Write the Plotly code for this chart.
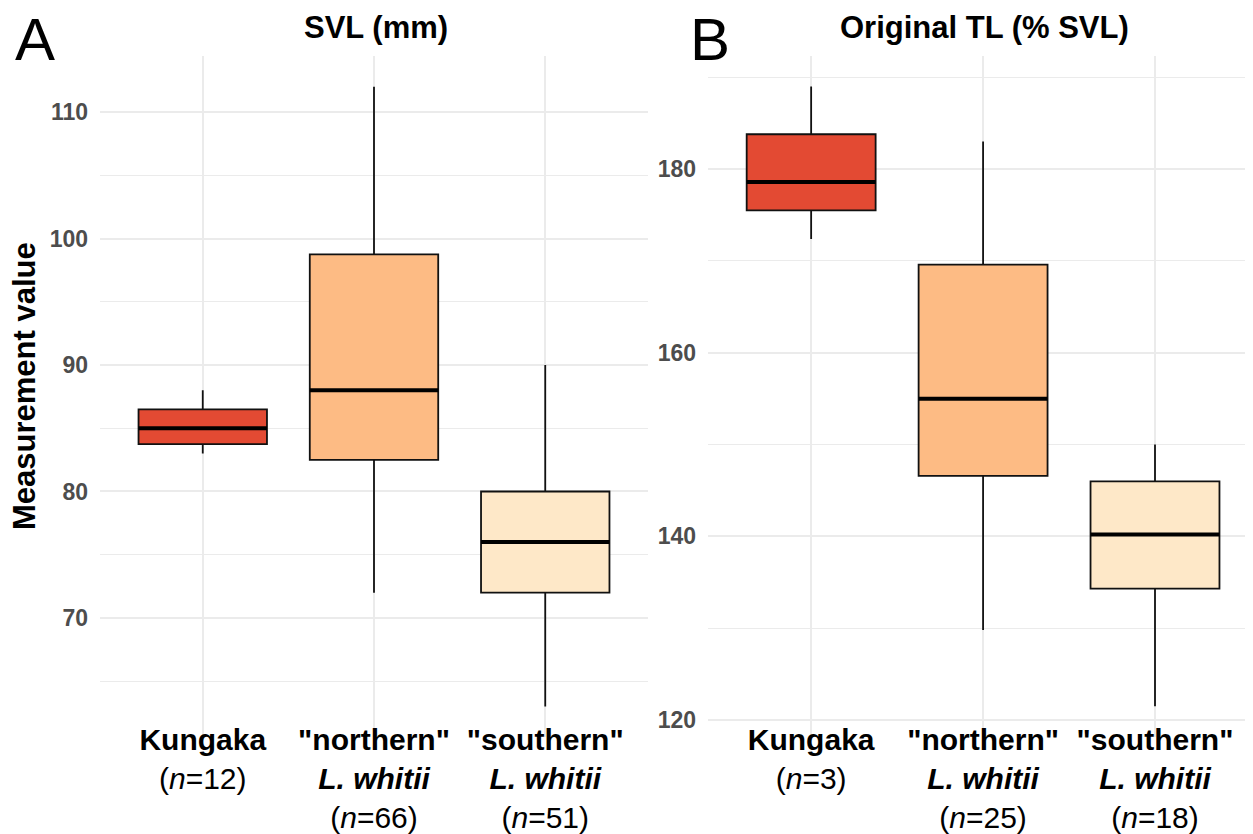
import plotly.graph_objects as go

# ---------------- data ----------------
categories = ["Kungaka", "northern", "southern"]
cat_bold = ["Kungaka", "\"northern\"", "\"southern\""]
cat_species = ["", "L. whitii", "L. whitii"]
fill_colors = ["#E34A33", "#FDBB84", "#FEE8C8"]

# Panel A: SVL (mm)
svl_n = [12, 66, 51]
svl_lower = [83.0, 72.0, 63.0]
svl_q1 = [83.75, 82.5, 72.0]
svl_median = [85.0, 88.0, 76.0]
svl_q3 = [86.5, 98.75, 80.0]
svl_upper = [88.0, 112.0, 90.0]

# Panel B: Original TL (% SVL)
tl_n = [3, 25, 18]
tl_lower = [172.4, 129.8, 121.5]
tl_q1 = [175.5, 146.6, 134.3]
tl_median = [178.6, 155.0, 140.2]
tl_q3 = [183.8, 169.6, 146.0]
tl_upper = [189.0, 183.0, 150.0]

svl_ticks = [70, 80, 90, 100, 110]
tl_ticks = [120, 140, 160, 180]

FONT = "Liberation Sans, Arial, Helvetica, sans-serif"
OFF = 8  # page body margin
W, H = 1253 - OFF, 834 - OFF
BOX_W = 0.75


def px(xpix):
    return (xpix - OFF) / W


def py(ypix):
    return (H - (ypix - OFF)) / H


def tick_labels(ns):
    out = []
    for b, sp, n in zip(cat_bold, cat_species, ns):
        s = f"<b>{b}</b>"
        if sp:
            s += f"<br><b><i>{sp}</i></b>"
        s += f"<br>(<i>n</i>={n})"
        out.append(s)
    return out


fig = go.Figure()
shapes = []


def add_panel(xa, ya, lower, q1, med, q3, upper):
    for i, c in enumerate(categories):
        fig.add_trace(go.Box(
            x=[c], lowerfence=[lower[i]], q1=[q1[i]], median=[med[i]],
            q3=[q3[i]], upperfence=[upper[i]],
            fillcolor=fill_colors[i],
            line=dict(color="#111111", width=1.8),
            whiskerwidth=0, width=BOX_W, boxpoints=False,
            xaxis=xa, yaxis=ya, showlegend=False, hoverinfo="skip",
        ))
        shapes.append(dict(
            type="line", xref=xa, yref=ya,
            x0=i - BOX_W / 2, x1=i + BOX_W / 2, y0=med[i], y1=med[i],
            line=dict(color="black", width=4), layer="above",
        ))


add_panel("x", "y", svl_lower, svl_q1, svl_median, svl_q3, svl_upper)
add_panel("x2", "y2", tl_lower, tl_q1, tl_median, tl_q3, tl_upper)

grid = "#EBEBEB"
xcommon = dict(
    type="category", showgrid=True, gridcolor=grid, gridwidth=1.6,
    zeroline=False, showline=False, ticks="",
    tickfont=dict(family=FONT, size=30, color="black"),
    tickvals=categories, automargin=False, fixedrange=True,
    ticklabelstandoff=-18,
)
ycommon = dict(
    showgrid=True, gridcolor=grid, gridwidth=1.6, zeroline=False,
    showline=False, ticks="",
    tickfont=dict(family=FONT, size=23, color="#4D4D4D", weight=700),
    automargin=False, ticklabelstandoff=11,
)

ybot = py(737)
ytop = py(56)

fig.update_layout(
    width=W, height=H,
    margin=dict(l=0, r=0, t=0, b=0),
    paper_bgcolor="white", plot_bgcolor="white",
    boxmode="overlay",
    font=dict(family=FONT),
    xaxis=dict(xcommon, domain=[px(100), px(648)], range=[-0.6, 2.6],
               ticktext=tick_labels(svl_n), anchor="y"),
    yaxis=dict(ycommon, domain=[ybot, ytop], range=[60.59, 114.43],
               tickvals=svl_ticks, anchor="x",
               minor=dict(dtick=5, tick0=60, showgrid=True, gridcolor=grid, gridwidth=1.0)),
    xaxis2=dict(xcommon, domain=[px(708), 1.0], range=[-0.6, 2.57],
                ticktext=tick_labels(tl_n), anchor="y2"),
    yaxis2=dict(ycommon, domain=[ybot, ytop], range=[118.15, 192.32],
                tickvals=tl_ticks, anchor="x2",
                minor=dict(dtick=10, tick0=120, showgrid=True, gridcolor=grid, gridwidth=1.0)),
    shapes=shapes,
    annotations=[
        dict(text="<b>SVL (mm)</b>", x=px(376), y=py(27), xref="paper", yref="paper",
             xanchor="center", yanchor="middle", showarrow=False,
             font=dict(family=FONT, size=31, color="black")),
        dict(text="<b>Original TL (% SVL)</b>", x=px(984), y=py(27), xref="paper", yref="paper",
             xanchor="center", yanchor="middle", showarrow=False,
             font=dict(family=FONT, size=31, color="black")),
        dict(text="A", x=px(35), y=py(40), xref="paper", yref="paper",
             xanchor="center", yanchor="middle", showarrow=False,
             font=dict(family=FONT, size=60, color="black")),
        dict(text="B", x=px(710), y=py(40), xref="paper", yref="paper",
             xanchor="center", yanchor="middle", showarrow=False,
             font=dict(family=FONT, size=60, color="black")),
        dict(text="<b>Measurement value</b>", x=px(24), y=py(386), xref="paper", yref="paper",
             xanchor="center", yanchor="middle", showarrow=False, textangle=-90,
             font=dict(family=FONT, size=31, color="black")),
    ],
)

fig.write_html("out.html")
